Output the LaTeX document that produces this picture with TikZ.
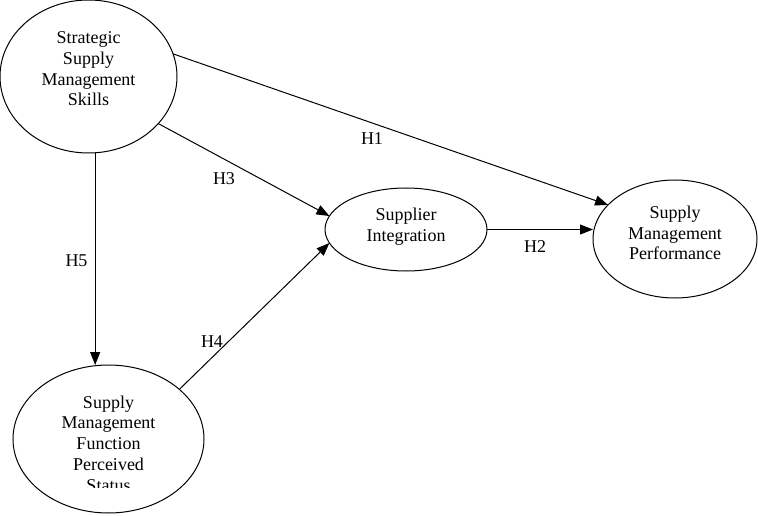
\documentclass[tikz,border=0pt]{standalone}
\usepackage{fontspec}
\setmainfont{Liberation Serif}
\usetikzlibrary{calc,shapes.geometric,arrows.meta}

\begin{document}
\begin{tikzpicture}[x=1pt,y=-1pt,
    construct/.style={ellipse,draw,line width=1pt,inner sep=0pt,outer sep=0pt},
    caption/.style={align=center,font=\fontsize{18}{20.7}\selectfont},
    hyp/.style={-{Triangle[length=13pt,width=10pt]},line width=1pt}]
  \useasboundingbox (0,0) rectangle (758,516);
  % constructs
  \node[construct,minimum width=177pt,minimum height=153pt] (SSMS) at (88.5,76.5) {};
  \node[construct,minimum width=162pt,minimum height=83pt] (SI) at (406,229.5) {};
  \node[construct,minimum width=164pt,minimum height=118pt] (SMP) at (675,239) {};
  \node[construct,minimum width=191pt,minimum height=148pt] (SMFPS) at (108.5,439) {};
  \node[caption] (SSMS-text) at ($(SSMS)+(0,-7.5)$) {Strategic\\Supply\\Management\\Skills};
  \node[caption] (SI-text) at ($(SI)+(0,-2.5)$) {Supplier\\Integration};
  \node[caption] (SMP-text) at ($(SMP)+(0,-6)$) {Supply\\Management\\Performance};
  \begin{scope}
    \clip (0,0) rectangle (300,487);
    \node[caption] (SMFPS-text) at ($(SMFPS)+(0,4.5)$) {Supply\\Management\\Function\\Perceived\\Status};
  \end{scope}
  % hypotheses
  \draw[hyp] (SSMS.15.2) -- (SMP.153.4);
  \draw[hyp] (SI.east) -- (SI.east -| SMP.west);
  \draw[hyp] (SSMS.-34.1) -- (SI.170.8);
  \draw[hyp] (SMFPS.35.9) -- (SI.190.7);
  \draw[hyp] (SSMS.-85) -- (SSMS.-85 |- SMFPS.north);
  \node[caption] (H1) at (372,139) {H1};
  \node[caption] (H2) at (535,247) {H2};
  \node[caption] (H3) at (224,179) {H3};
  \node[caption] (H4) at (212,342) {H4};
  \node[caption] (H5) at (76.5,261) {H5};
\end{tikzpicture}
\end{document}
